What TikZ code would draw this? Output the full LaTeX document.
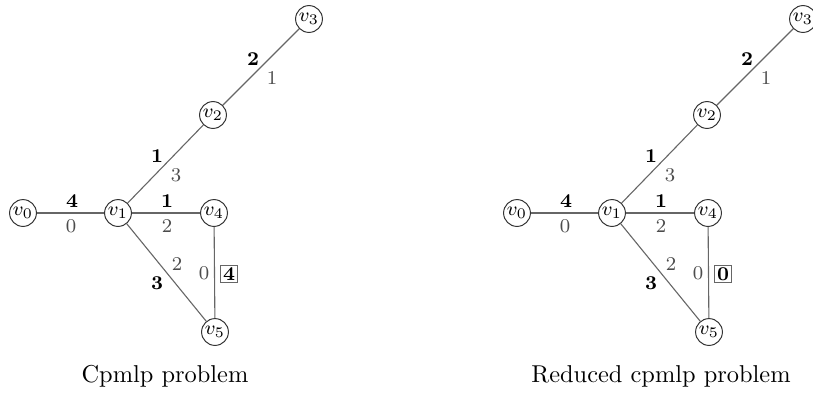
\documentclass[tikz,border=0pt]{standalone}
\tikzset{
  vert/.style={circle,draw=black!80,line width=0.4pt,minimum size=11pt,inner sep=0pt,font=\footnotesize,fill=white},
  edge/.style={draw=black!60,line width=0.45pt},
  wlab/.style={font=\footnotesize,text=black!70,inner sep=0pt},
  blab/.style={font=\footnotesize\bfseries,text=black,inner sep=0pt},
  boxlab/.style={font=\footnotesize\bfseries,draw=black!60,line width=0.4pt,inner sep=0.9pt,minimum size=7.2pt},
  captext/.style={font=\normalsize,anchor=base,inner sep=0pt}
}
\newcommand{\graphpic}[3]{%
  \begin{scope}[shift={(#2,0)}]
    \node[vert] (#1v0) at (23,213) {$v_0$};
    \node[vert] (#1v1) at (118,213) {$v_1$};
    \node[vert] (#1v4) at (214,213) {$v_4$};
    \node[vert] (#1v5) at (215,332) {$v_5$};
    \node[vert] (#1v2) at (213,115) {$v_2$};
    \node[vert] (#1v3) at (309,19) {$v_3$};
    \draw[edge] (#1v0) -- (#1v1);
    \draw[edge] (#1v1) -- (#1v4);
    \draw[edge] (#1v1) -- (#1v5);
    \draw[edge] (#1v4) -- (#1v5);
    \draw[edge] (#1v1) -- (#1v2);
    \draw[edge] (#1v2) -- (#1v3);
    \node[blab] (#1b23) at (253,59) {2};
    \node[wlab] (#1w23) at (272,78) {1};
    \node[blab] (#1b12) at (157,156) {1};
    \node[wlab] (#1w12) at (176,175) {3};
    \node[blab] (#1b01) at (72,201) {4};
    \node[wlab] (#1w01) at (71,226) {0};
    \node[blab] (#1b14) at (167,201) {1};
    \node[wlab] (#1w14) at (167,226) {2};
    \node[wlab] (#1w15) at (177,264) {2};
    \node[blab] (#1b15) at (157,283) {3};
    \node[wlab] (#1w45) at (204,273) {0};
    \node[boxlab] (#1b45) at (229,274) {#3};
  \end{scope}}
\begin{document}
\begin{tikzpicture}[x=0.41pt,y=-0.41pt]
  \useasboundingbox (0,0) rectangle (813,393);
  \graphpic{L}{0}{4}
  \graphpic{R}{494}{0}
  \node[captext] (capL) at (165,382) {Cpmlp problem};
  \node[captext] (capR) at (661,382) {Reduced cpmlp problem};
\end{tikzpicture}
\end{document}
